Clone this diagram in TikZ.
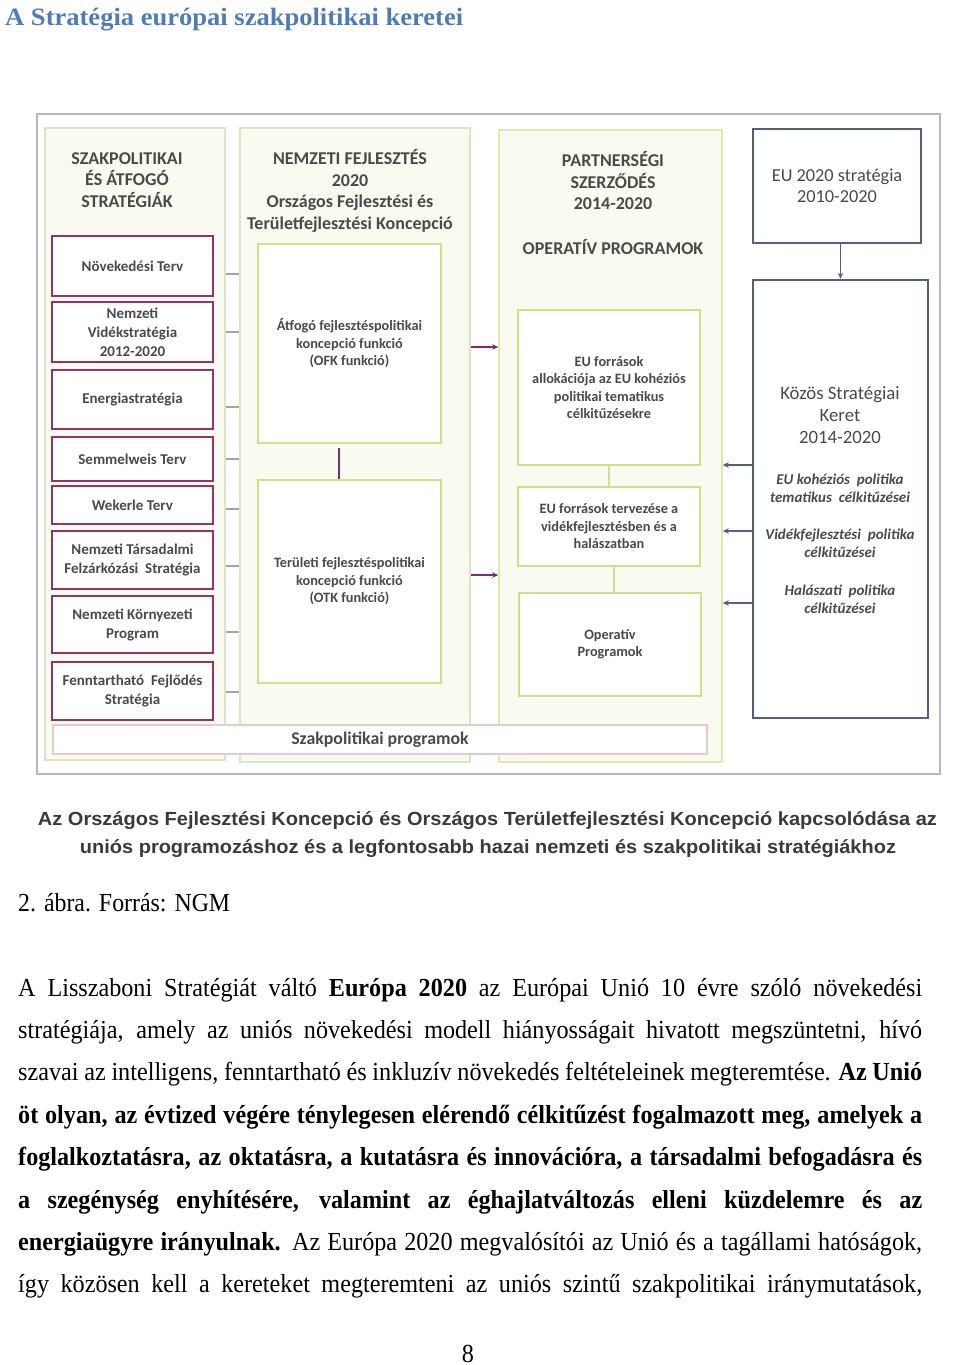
\documentclass[tikz,border=0pt]{standalone}
\usepackage{fontspec}
\usepackage{graphicx}
\setmainfont{Liberation Serif}
\newfontfamily\diagfont{Carlito}
\newfontfamily\capfont{Liberation Sans}
\newfontfamily\bodyfont[FakeStretch=0.93]{Liberation Serif}
\usetikzlibrary{arrows.meta}

\definecolor{txtgray}{HTML}{4A4A4A}
\definecolor{colfill}{HTML}{F9FBF0}
\definecolor{coldraw}{HTML}{DCE4C6}
\definecolor{limeline}{HTML}{CFE08C}
\definecolor{berry}{HTML}{973262}
\definecolor{slate}{HTML}{53617F}
\definecolor{framegray}{HTML}{B8B8B8}
\definecolor{tickcol}{HTML}{A8A88A}
\definecolor{plum}{HTML}{7B2D6E}
\definecolor{pinkbar}{HTML}{E6C9C9}
\definecolor{titleblue}{HTML}{4F7CB8}
\definecolor{capgray}{HTML}{3A3A3A}

\newcommand{\bodyw}{904pt}

\tikzset{
  column/.style={draw=coldraw, fill=colfill, line width=1.5pt},
  heading/.style={align=center, text=txtgray, font=\diagfont\bfseries\fontsize{18}{21.5}\selectfont},
  stratbox/.style={draw=berry, fill=white, line width=2.5pt, minimum width=161pt, align=center,
    text=txtgray, font=\diagfont\bfseries\fontsize{15}{19}\selectfont},
  funcbox/.style={draw=limeline, fill=white, line width=2pt, align=center,
    text=txtgray, font=\diagfont\bfseries\fontsize{14.3}{17.5}\selectfont},
  eubox/.style={draw=slate, fill=white, line width=2.5pt, align=center,
    text=txtgray, font=\diagfont\fontsize{18.3}{21.5}\selectfont},
  goaltext/.style={align=center, text=txtgray, font=\diagfont\bfseries\itshape\fontsize{15}{18}\selectfont},
  tick/.style={draw=tickcol, line width=1.2pt},
  linkarrow/.style={draw=plum, line width=1.5pt, -{Stealth[length=6pt,width=5.5pt]}},
  euarrow/.style={draw=slate, line width=1.5pt, -{Stealth[length=6pt,width=5.5pt]}},
  bodyline/.style={anchor=base west, inner sep=0pt, font=\bodyfont\fontsize{26}{30}\selectfont},
  capline/.style={anchor=base, inner sep=0pt, text=capgray, font=\capfont\bfseries\fontsize{19}{22}\selectfont},
}

\begin{document}
\begin{tikzpicture}[x=1pt, y=-1pt]
	\useasboundingbox[fill=white] (0,0) rectangle (960,1365);

	% Page title
	\node (title) at (5,25) [anchor=base west, inner sep=0pt, text=titleblue, font=\bfseries\fontsize{25}{28}\selectfont]
		{\resizebox{458pt}{\height}{A Stratégia európai szakpolitikai keretei}};

	% Outer frame of the figure
	\draw[framegray, line width=1.5pt] (37,114) rectangle (940,774);

	% Columns
	\node (col1) at (135,444) [column, minimum width=180pt, minimum height=632pt] {};
	\node (col2) at (355,445) [column, minimum width=230pt, minimum height=634pt] {};
	\node (col3) at (610.5,446) [column, minimum width=223pt, minimum height=632pt, draw=limeline!70] {};

	% Column headings
	\node (head1) at (127,180) [heading] {SZAKPOLITIKAI\\ÉS ÁTFOGÓ\\STRATÉGIÁK};
	\node (head2) at (350,191) [heading] {NEMZETI FEJLESZTÉS\\2020\\Országos Fejlesztési és\\Területfejlesztési Koncepció};
	\node (head3) at (613,181) [heading] {PARTNERSÉGI\\SZERZŐDÉS\\2014-2020};
	\node (head3b) at (613,247) [heading] {OPERATÍV PROGRAMOK};

	% Sector strategies
	\node (nov) at (132.5,266) [stratbox, minimum height=60pt] {Növekedési Terv};
	\node (vid) at (132.5,332) [stratbox, minimum height=60pt] {Nemzeti\\Vidékstratégia\\2012-2020};
	\node (ener) at (132.5,399.5) [stratbox, minimum height=59pt] {Energiastratégia};
	\node (semm) at (132.5,459) [stratbox, minimum height=44pt] {Semmelweis Terv};
	\node (wek) at (132.5,505) [stratbox, minimum height=38pt] {Wekerle Terv};
	\node (fel) at (132.5,560) [stratbox, minimum height=58pt] {Nemzeti Társadalmi\\Felzárkózási\ \ Stratégia};
	\node (korny) at (132.5,624.5) [stratbox, minimum height=57pt] {Nemzeti Környezeti\\Program};
	\node (fennt) at (132.5,691) [stratbox, minimum height=58pt] {Fenntartható\ \ Fejlődés\\Stratégia};

	% Ticks between column 1 and column 2
	\foreach \y in {274,332,407,459,509,566,632,692}
		\draw[tick] (col1.east |- 0,\y) -- (col2.west |- 0,\y);

	% Concept functions
	\node (ofk) at (349.5,343.5) [funcbox, minimum width=183pt, minimum height=199pt]
		{Átfogó fejlesztéspolitikai\\koncepció funkció\\(OFK funkció)};
	\node (otk) at (349.5,581.5) [funcbox, minimum width=183pt, minimum height=203pt]
		{Területi fejlesztéspolitikai\\koncepció funkció\\(OTK funkció)};
	\draw[plum, line width=1.5pt] (ofk.south -| 339,0) ++(0,4) -- (otk.north -| 339,0);

	% Operative programmes
	\node (alloc) at (609,387.5) [funcbox, minimum width=182pt, minimum height=155pt]
		{EU források\\allokációja az EU kohéziós\\politikai tematikus\\célkitűzésekre};
	\node (vidterv) at (609,526.5) [funcbox, minimum width=182pt, minimum height=79pt]
		{EU források tervezése a\\vidékfejlesztésben és a\\halászatban};
	\node (opprog) at (610,644.5) [funcbox, minimum width=182pt, minimum height=103pt]
		{Operatív\\Programok};
	\draw[limeline, line width=2pt] (alloc.south) -- (vidterv.north);
	\draw[limeline, line width=2pt] (vidterv.south -| 614,0) -- (opprog.north -| 614,0);

	% Arrows from column 2 to column 3
	\draw[linkarrow] (col2.east |- 0,347) -- (col3.west |- 0,347);
	\draw[linkarrow] (col2.east |- 0,575) -- (col3.west |- 0,575);

	% Sector programmes bar
	\node (szakprog) at (380,739.5) [draw=pinkbar, fill=white, line width=1.5pt, minimum width=654pt, minimum height=29pt,
		text=txtgray, font=\diagfont\bfseries\fontsize{17.8}{20}\selectfont] {Szakpolitikai programok};

	% EU side
	\node (eu2020) at (837,186) [eubox, minimum width=168pt, minimum height=114pt] {EU 2020 stratégia\\2010-2020};
	\node (ksk) at (840.5,499) [eubox, minimum width=175pt, minimum height=438pt] {};
	\node (ksktitle) at (840,415) [align=center, text=txtgray, font=\diagfont\fontsize{18.8}{22}\selectfont]
		{Közös Stratégiai\\Keret\\2014-2020};
	\node (goal1) at (840,488) [goaltext] {EU kohéziós\ \ politika\\tematikus\ \ célkitűzései};
	\node (goal2) at (840,543) [goaltext] {Vidékfejlesztési\ \ politika\\célkitűzései};
	\node (goal3) at (840,599) [goaltext] {Halászati\ \ politika\\célkitűzései};
	\draw[euarrow] (eu2020.south -| ksk.north) -- (ksk.north);
	\foreach \y in {465,531,603}
		\draw[euarrow] (ksk.west |- 0,\y) -- (col3.east |- 0,\y);

	% Caption of the figure
	\node (cap1) at (487.5,825) [capline] {\resizebox{899pt}{\height}{Az Országos Fejlesztési Koncepció és Országos Területfejlesztési Koncepció kapcsolódása az}};
	\node (cap2) at (488,853) [capline] {\resizebox{816pt}{\height}{uniós programozáshoz és a legfontosabb hazai nemzeti és szakpolitikai stratégiákhoz}};

	\node (source) at (18,911) [anchor=base west, inner sep=0pt, font=\fontsize{26}{30}\selectfont]
		{\resizebox{212pt}{\height}{2. ábra. Forrás: NGM}};

	% Body text
	\node (l1) at (18,996) [bodyline] {\makebox[\bodyw][s]{A Lisszaboni Stratégiát váltó \textbf{Európa 2020} az Európai Unió 10 évre szóló növekedési}};
	\node (l2) at (18,1038) [bodyline] {\makebox[\bodyw][s]{stratégiája, amely az uniós növekedési modell hiányosságait hivatott megszüntetni, hívó}};
	\node (l3) at (18,1080) [bodyline] {\makebox[\bodyw][s]{szavai az intelligens, fenntartható és inkluzív növekedés feltételeinek megteremtése. \textbf{Az Unió}}};
	\node (l4) at (18,1123) [bodyline] {\makebox[\bodyw][s]{\bfseries öt olyan, az évtized végére ténylegesen elérendő célkitűzést fogalmazott meg, amelyek a}};
	\node (l5) at (18,1165) [bodyline] {\makebox[\bodyw][s]{\bfseries foglalkoztatásra, az oktatásra, a kutatásra és innovációra, a társadalmi befogadásra és}};
	\node (l6) at (18,1208) [bodyline] {\makebox[\bodyw][s]{\bfseries a szegénység enyhítésére, valamint az éghajlatváltozás elleni küzdelemre és az}};
	\node (l7) at (18,1250) [bodyline] {\makebox[\bodyw][s]{\textbf{energiaügyre irányulnak.} Az Európa 2020 megvalósítói az Unió és a tagállami hatóságok,}};
	\node (l8) at (18,1292) [bodyline] {\makebox[\bodyw][s]{így közösen kell a kereteket megteremteni az uniós szintű szakpolitikai iránymutatások,}};

	% Page number
	\node (pagenum) at (468,1362) [anchor=base, inner sep=0pt, font=\bodyfont\fontsize{26}{30}\selectfont] {8};
\end{tikzpicture}
\end{document}
